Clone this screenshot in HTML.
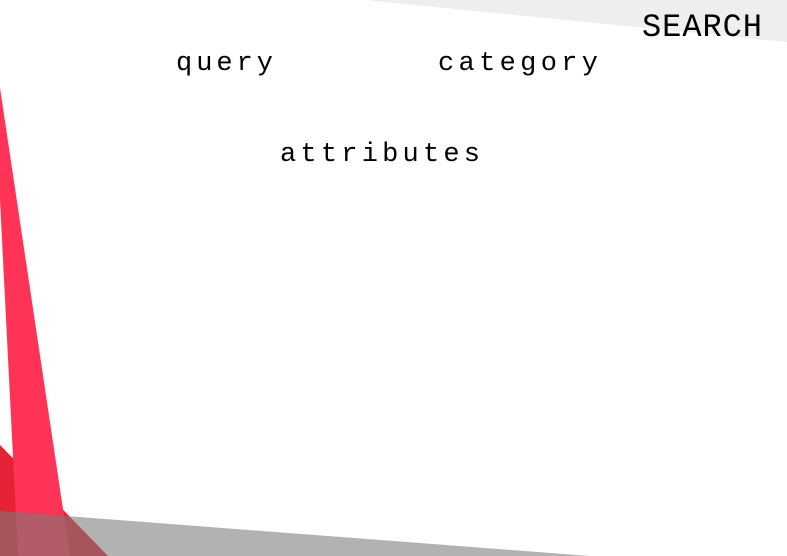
<!DOCTYPE html>
<html><head><meta charset="utf-8"><style>
html,body{margin:0;padding:0;background:#fff;}
svg{display:block}
text{font-family:"Liberation Mono","DejaVu Sans Mono",monospace;fill:#000;}
</style></head><body>
<svg width="787" height="556" viewBox="0 0 787 556" xmlns="http://www.w3.org/2000/svg">
<rect width="787" height="556" fill="#fff"/>
<polygon points="365,0 787,0 787,42" fill="#eeeeee"/>
<polygon points="0,445 108,556 0,556" fill="#e52235"/>
<polygon points="0,88 70,556 18,556 0,200" fill="#ff3355"/>
<polygon points="0,511 590,556 0,556" fill="#7a7a7a" opacity="0.58"/>
<text x="642" y="36" font-size="32" textLength="120" lengthAdjust="spacing">SEARCH</text>
<text x="176" y="70" font-size="27" textLength="97" lengthAdjust="spacing">query</text>
<text x="438" y="70" font-size="27" textLength="160" lengthAdjust="spacing">category</text>
<text x="280" y="161" font-size="27" textLength="200" lengthAdjust="spacing">attributes</text>
</svg>
</body></html>
